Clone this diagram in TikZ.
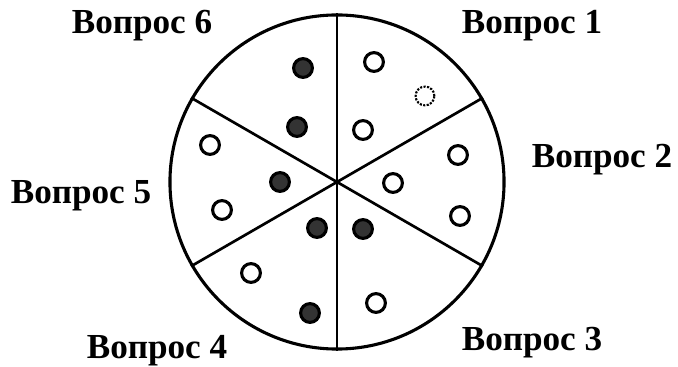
\documentclass[tikz,border=0pt]{standalone}
\usepackage{fontspec}
\setmainfont{Liberation Serif}
\usepackage{tikz}
\usetikzlibrary{positioning}

\begin{document}
\begin{tikzpicture}[x=0.025cm,y=0.025cm,
    vopros/.style={font=\fontsize{25}{30}\selectfont\bfseries},
    plein/.style={circle,draw,line width=2.2pt,fill=black!80,minimum size=0.47cm,inner sep=0},
    creux/.style={circle,draw,line width=2.2pt,fill=white,minimum size=0.47cm,inner sep=0},
    pale/.style={circle,draw,densely dotted,line width=1.5pt,minimum size=0.47cm,inner sep=0}]

\useasboundingbox (0,0) rectangle (678,367);

\node[circle,draw,line width=2.2pt,minimum size=8.35cm,inner sep=0] (disque) at (337,185) {};
\foreach \a in {30,90,...,330}
  \draw[line width=1.9pt] (disque.center) -- (disque.\a);

\node[vopros] (v1) at (532,341) {Вопрос 1};
\node[vopros] (v2) at (602,207) {Вопрос 2};
\node[vopros] (v3) at (532,24) {Вопрос 3};
\node[vopros] (v4) at (157,16) {Вопрос 4};
\node[vopros] (v5) at (81,171) {Вопрос 5};
\node[vopros] (v6) at (142,341) {Вопрос 6};

\node[creux] (q1a) at (374,305) {};
\node[pale]  (q1b) at (425,271) {};
\node[creux] (q1c) at (363,237) {};

\node[creux] (q2a) at (458,212) {};
\node[creux] (q2b) at (393,184) {};
\node[creux] (q2c) at (460,151) {};

\node[plein] (q3a) at (363,138) {};
\node[creux] (q3b) at (376,64) {};

\node[plein] (q4a) at (317,139) {};
\node[creux] (q4b) at (251,94) {};
\node[plein] (q4c) at (310,54) {};

\node[creux] (q5a) at (210,222) {};
\node[plein] (q5b) at (280,185) {};
\node[creux] (q5c) at (222,157) {};

\node[plein] (q6a) at (303,299) {};
\node[plein] (q6b) at (297,240) {};

\end{tikzpicture}
\end{document}
